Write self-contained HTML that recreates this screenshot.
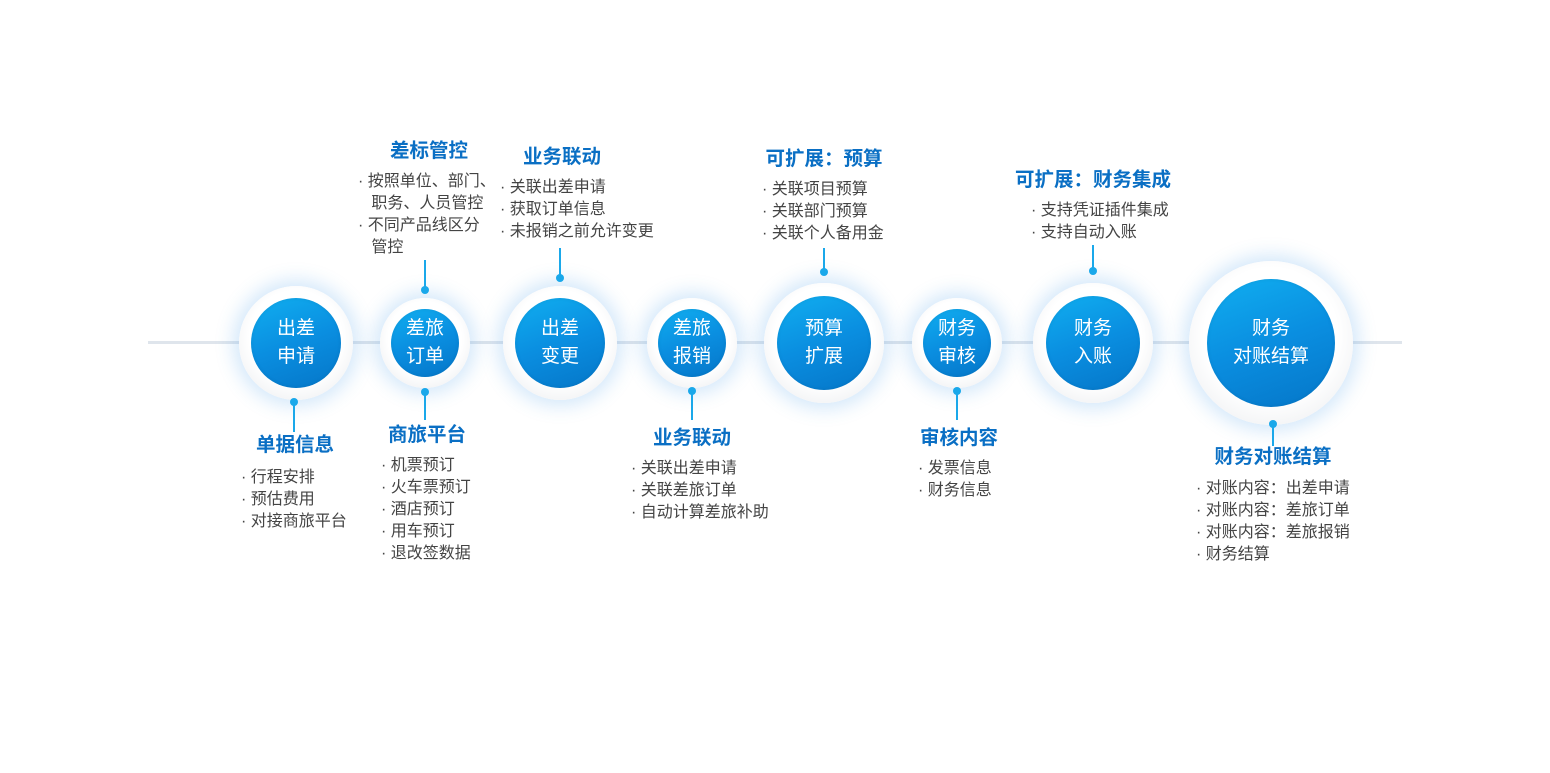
<!DOCTYPE html>
<html><head><meta charset="utf-8"><style>
body{margin:0;width:1550px;height:773px;background:#fff;position:relative;overflow:hidden;font-family:"Liberation Sans","Noto Sans CJK SC",sans-serif}
.line{position:absolute;left:148px;top:341px;width:1254px;height:3px;background:#dfe5ec}
.o{position:absolute;border-radius:50%;background:radial-gradient(circle at 50% 45%,#ffffff 55%,#e6e8eb 100%);box-shadow:0 0 18px 6px rgba(60,150,230,0.22)}
.i{position:absolute;border-radius:50%;background:linear-gradient(160deg,#10aef0 0%,#0a8ee0 50%,#0576c8 100%);color:#fff;display:flex;align-items:center;justify-content:center;text-align:center;font-size:19px;line-height:28px;box-shadow:inset 0 0 4px rgba(0,0,0,0.08)}
.v{position:absolute;width:2px;background:#1aa8ea}
.d{position:absolute;width:8px;height:8px;border-radius:50%;background:#1aa8ea}
.t{position:absolute;color:#0a6fc4;font-size:19.5px;font-weight:bold;line-height:24px;white-space:nowrap;transform:translateX(-50%)}
.b{position:absolute;color:#444;font-size:16px;line-height:22px;white-space:nowrap}
</style></head><body>
<div class="line"></div>

<div class="o" style="left:239px;top:286px;width:114px;height:114px"></div>
<div class="i" style="left:251px;top:298px;width:90px;height:90px">出差<br>申请</div>

<div class="o" style="left:380px;top:298px;width:90px;height:90px"></div>
<div class="i" style="left:391px;top:309px;width:68px;height:68px">差旅<br>订单</div>

<div class="o" style="left:503px;top:286px;width:114px;height:114px"></div>
<div class="i" style="left:515px;top:298px;width:90px;height:90px">出差<br>变更</div>

<div class="o" style="left:647px;top:298px;width:90px;height:90px"></div>
<div class="i" style="left:658px;top:309px;width:68px;height:68px">差旅<br>报销</div>

<div class="o" style="left:764px;top:283px;width:120px;height:120px"></div>
<div class="i" style="left:777px;top:296px;width:94px;height:94px">预算<br>扩展</div>

<div class="o" style="left:912px;top:298px;width:90px;height:90px"></div>
<div class="i" style="left:923px;top:309px;width:68px;height:68px">财务<br>审核</div>

<div class="o" style="left:1033px;top:283px;width:120px;height:120px"></div>
<div class="i" style="left:1046px;top:296px;width:94px;height:94px">财务<br>入账</div>

<div class="o" style="left:1189px;top:261px;width:164px;height:164px"></div>
<div class="i" style="left:1207px;top:279px;width:128px;height:128px">财务<br>对账结算</div>

<div class="v" style="left:424px;top:260px;height:30px"></div><div class="d" style="left:421px;top:286px"></div>
<div class="v" style="left:559px;top:248px;height:30px"></div><div class="d" style="left:556px;top:274px"></div>
<div class="v" style="left:823px;top:248px;height:24px"></div><div class="d" style="left:820px;top:268px"></div>
<div class="v" style="left:1092px;top:245px;height:26px"></div><div class="d" style="left:1089px;top:267px"></div>

<div class="v" style="left:293px;top:402px;height:30px"></div><div class="d" style="left:290px;top:398px"></div>
<div class="v" style="left:424px;top:392px;height:28px"></div><div class="d" style="left:421px;top:388px"></div>
<div class="v" style="left:691px;top:391px;height:29px"></div><div class="d" style="left:688px;top:387px"></div>
<div class="v" style="left:956px;top:391px;height:29px"></div><div class="d" style="left:953px;top:387px"></div>
<div class="v" style="left:1272px;top:424px;height:22px"></div><div class="d" style="left:1269px;top:420px"></div>

<div class="t" style="left:429px;top:139px">差标管控</div>
<div class="b" style="left:358px;top:171px">·&nbsp;按照单位、部门、<br>&nbsp;&nbsp;&nbsp;职务、人员管控<br>·&nbsp;不同产品线区分<br>&nbsp;&nbsp;&nbsp;管控</div>

<div class="t" style="left:562px;top:145px">业务联动</div>
<div class="b" style="left:500px;top:177px">·&nbsp;关联出差申请<br>·&nbsp;获取订单信息<br>·&nbsp;未报销之前允许变更</div>

<div class="t" style="left:824px;top:147px">可扩展：预算</div>
<div class="b" style="left:762px;top:179px">·&nbsp;关联项目预算<br>·&nbsp;关联部门预算<br>·&nbsp;关联个人备用金</div>

<div class="t" style="left:1093px;top:168px">可扩展：财务集成</div>
<div class="b" style="left:1031px;top:200px">·&nbsp;支持凭证插件集成<br>·&nbsp;支持自动入账</div>

<div class="t" style="left:295px;top:433px">单据信息</div>
<div class="b" style="left:241px;top:467px">·&nbsp;行程安排<br>·&nbsp;预估费用<br>·&nbsp;对接商旅平台</div>

<div class="t" style="left:427px;top:423px">商旅平台</div>
<div class="b" style="left:381px;top:455px">·&nbsp;机票预订<br>·&nbsp;火车票预订<br>·&nbsp;酒店预订<br>·&nbsp;用车预订<br>·&nbsp;退改签数据</div>

<div class="t" style="left:692px;top:426px">业务联动</div>
<div class="b" style="left:631px;top:458px">·&nbsp;关联出差申请<br>·&nbsp;关联差旅订单<br>·&nbsp;自动计算差旅补助</div>

<div class="t" style="left:959px;top:426px">审核内容</div>
<div class="b" style="left:918px;top:458px">·&nbsp;发票信息<br>·&nbsp;财务信息</div>

<div class="t" style="left:1273px;top:445px">财务对账结算</div>
<div class="b" style="left:1196px;top:478px">·&nbsp;对账内容：出差申请<br>·&nbsp;对账内容：差旅订单<br>·&nbsp;对账内容：差旅报销<br>·&nbsp;财务结算</div>
</body></html>
